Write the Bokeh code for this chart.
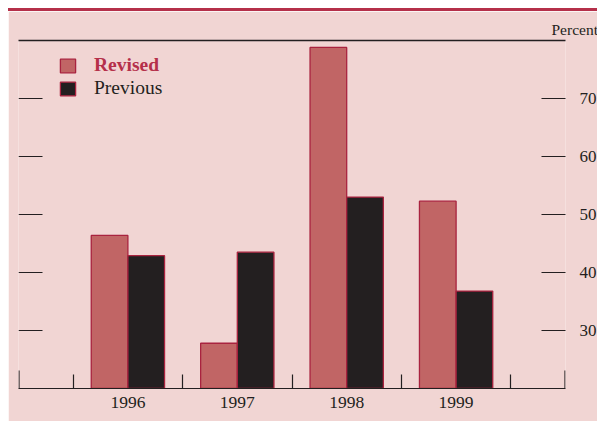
from bokeh.plotting import figure
from bokeh.models import (FixedTicker, LinearAxis, Range1d, Title, Legend, LegendItem,
                          ColumnDataSource, Div, Column)
from bokeh.embed import file_html
from bokeh.resources import INLINE

# ---- data ----
years = ["1996", "1997", "1998", "1999"]
revised = [46.4, 27.8, 78.8, 52.3]
previous = [42.9, 43.5, 53.0, 36.8]
y_ticks = [30, 40, 50, 60, 70]

# ---- style ----
BG = "#F1D5D3"
REV = "#C16565"
PREV = "#231F20"
EDGE = "#A9233F"
CRIMSON = "#B5304A"
INK = "#231F20"
FONT = "Liberation Serif"

FW, FH = 547, 348
pos = list(range(len(years)))
x_start, x_end = -1.0, len(years)
y_start, y_end = 20, 80
bw = 0.335
px_x = FW / (x_end - x_start)   # pixels per x unit
px_y = FH / (y_end - y_start)   # pixels per y unit

src = ColumnDataSource(dict(
    x_rev=[q - bw / 2 for q in pos],
    x_prev=[q + bw / 2 for q in pos],
    revised=revised, previous=previous))

p = figure(frame_width=FW, frame_height=FH,
           x_range=Range1d(x_start, x_end), y_range=Range1d(y_start, y_end),
           output_backend="svg", toolbar_location=None,
           x_axis_location=None, y_axis_location=None,
           min_border_left=10, min_border_right=31, min_border_top=29,
           min_border_bottom=33, margin=0)
p.background_fill_color = BG
p.border_fill_color = BG
p.outline_line_color = None
p.xgrid.visible = False
p.ygrid.visible = False

r_rev = p.vbar(x="x_rev", top="revised", bottom=y_start, width=bw, source=src,
               fill_color=REV, line_color=EDGE, line_width=1.3)
r_prev = p.vbar(x="x_prev", top="previous", bottom=y_start, width=bw, source=src,
                fill_color=PREV, line_color=EDGE, line_width=1.3)

# left ticks (inside, no labels)
tick_len = 24 / px_x
p.segment(x0=[x_start] * len(y_ticks), x1=[x_start + tick_len] * len(y_ticks),
          y0=y_ticks, y1=y_ticks, line_color=INK, line_width=1.2)

# right ticks with labels
ry = LinearAxis(ticker=FixedTicker(ticks=y_ticks, minor_ticks=[]))
ry.major_tick_in = 24
ry.major_tick_out = 0
ry.minor_tick_in = 0
ry.minor_tick_out = 0
ry.axis_line_color = None
ry.major_tick_line_color = INK
ry.major_tick_line_width = 1.2
ry.major_label_standoff = 14
ry.major_label_text_font = FONT
ry.major_label_text_font_size = "17px"
ry.major_label_text_color = INK
p.add_layout(ry, "right")

# top rule
ta = LinearAxis(ticker=FixedTicker(ticks=[], minor_ticks=[]))
ta.major_tick_in = 0
ta.major_tick_out = 0
ta.minor_tick_in = 0
ta.minor_tick_out = 0
ta.major_label_standoff = 0
ta.axis_line_color = INK
ta.axis_line_width = 1.5
p.add_layout(ta, "above")

# unit label
p.add_layout(Title(text="Percent", align="left", offset=533, vertical_align="bottom",
                   text_font=FONT, text_font_size="15.5px", text_font_style="normal",
                   text_color=INK, standoff=6), "above")

# bottom axis with category labels and boundary ticks
bx = LinearAxis(ticker=FixedTicker(ticks=pos,
                                   minor_ticks=[q + 0.5 for q in range(-1, len(years))]))
bx.major_label_overrides = {q: y for q, y in zip(pos, years)}
bx.major_tick_in = 0
bx.major_tick_out = 0
bx.minor_tick_in = 14
bx.minor_tick_out = 0
bx.minor_tick_line_color = INK
bx.minor_tick_line_width = 1.2
bx.axis_line_color = INK
bx.axis_line_width = 1.2
bx.major_label_standoff = 8
bx.major_label_text_font = FONT
bx.major_label_text_font_size = "17.5px"
bx.major_label_text_color = INK
p.add_layout(bx, "below")

# taller end ticks at frame edges
edge = 0.5 / px_x
end_len = 18 / px_y
p.segment(x0=[x_start + edge, x_end - edge], x1=[x_start + edge, x_end - edge],
          y0=[y_start, y_start], y1=[y_start + end_len, y_start + end_len],
          line_color=INK, line_width=1.2)

# legends
def make_legend(label, rend, loc, color, style):
    return Legend(items=[LegendItem(label=label, renderers=[rend])], location=loc,
                  orientation="vertical", padding=0, margin=0, spacing=0,
                  glyph_width=19, glyph_height=17, label_height=17, label_standoff=17,
                  border_line_color=None, background_fill_alpha=0,
                  label_text_font=FONT, label_text_font_size="19.5px",
                  label_text_color=color, label_text_font_style=style)

p.add_layout(make_legend("Revised", r_rev, (40, 312), CRIMSON, "bold"), "center")
p.add_layout(make_legend("Previous", r_prev, (40, 289), INK, "normal"), "center")

bar = Div(text="", width=589, height=3, margin=0,
          styles={"background-color": CRIMSON})
layout = Column(bar, p, spacing=0, margin=(8, 0, 0, 8))

open("out.html", "w").write(file_html(layout, INLINE))
